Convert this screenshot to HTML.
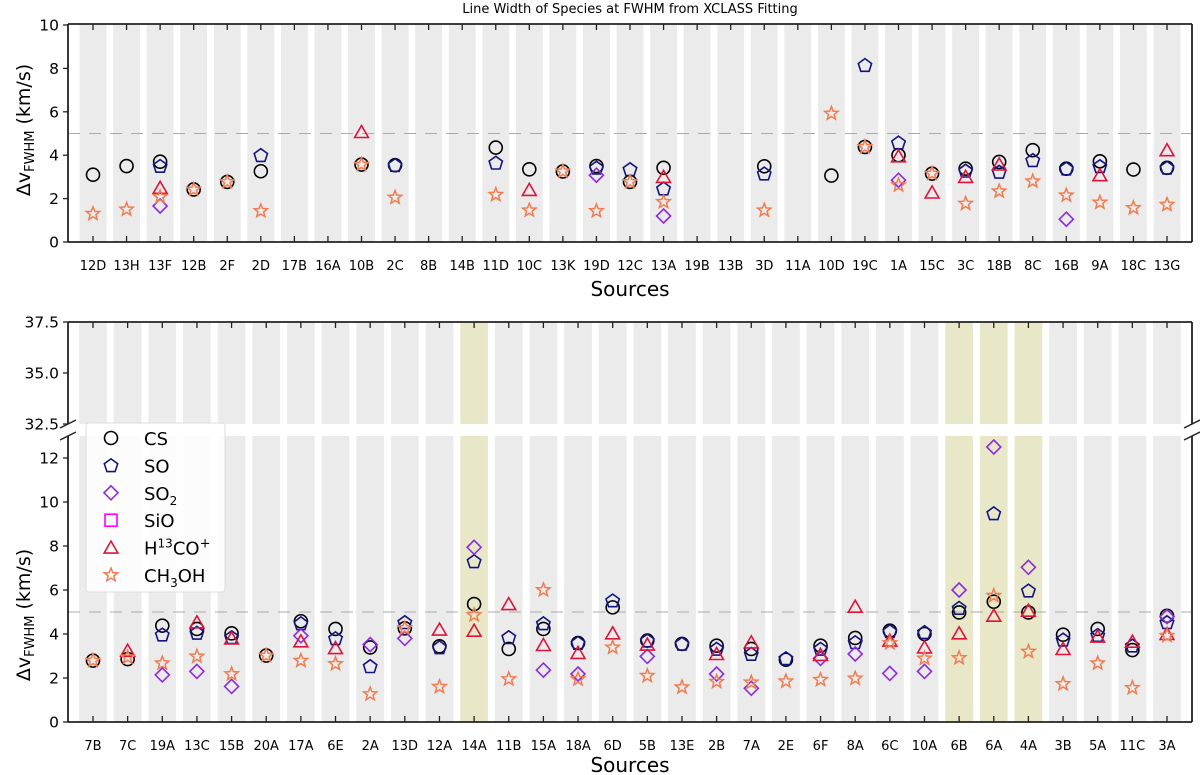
<!DOCTYPE html>
<html><head><meta charset="utf-8">
<style>
html,body{margin:0;padding:0;background:#fff;}
svg{display:block;font-family:"DejaVu Sans","Liberation Sans",sans-serif;}
</style></head>
<body>
<svg id="chart" width="1200" height="775" viewBox="0 0 1200 775" xmlns="http://www.w3.org/2000/svg">
<text x="630" y="13" font-size="13" text-anchor="middle">Line Width of Species at FWHM from XCLASS Fitting</text>
<g id="top"></g>
<g id="bot"></g>
</svg>
<script>
const topCats = ["12D","13H","13F","12B","2F","2D","17B","16A","10B","2C","8B","14B","11D","10C","13K","19D","12C","13A","19B","13B","3D","11A","10D","19C","1A","15C","3C","18B","8C","16B","9A","18C","13G"];
const N = null;
const topCS   = [3.1,3.5,3.7,2.42,2.77,3.26,N,N,3.57,3.54,N,N,4.35,3.35,3.25,3.5,2.77,3.42,N,N,3.49,N,3.06,4.38,4.0,3.15,3.38,3.69,4.23,3.38,3.72,3.34,3.42];
const topSO   = [N,N,3.5,N,N,4.0,N,N,N,3.54,N,N,3.65,N,N,3.42,3.35,2.46,N,N,3.15,N,N,8.15,4.58,N,3.28,3.23,3.77,3.38,3.49,N,3.42];
const topSO2  = [N,N,1.66,N,N,N,N,N,N,N,N,N,N,N,N,3.08,N,1.2,N,N,N,N,N,N,2.85,N,N,N,N,1.05,N,N,N];
const topSiO  = [N,N,N,N,N,N,N,N,N,N,N,N,N,N,N,N,N,N,N,N,N,N,N,N,N,N,N,N,N,N,N,N,N];
const topH13  = [N,N,2.5,N,N,N,N,N,5.07,N,N,N,N,2.4,N,N,N,3.0,N,N,N,N,N,N,3.95,2.28,3.0,3.57,N,N,3.08,N,4.23];
const topCH3OH= [1.3,1.5,2.08,2.42,2.77,1.43,N,N,3.57,2.05,N,N,2.18,1.46,3.25,1.43,2.77,1.85,N,N,1.46,N,5.92,4.38,2.62,3.15,1.77,2.34,2.8,2.15,1.82,1.57,1.72];
const topTicks = [0,2,4,6,8,10];

const botCats = ["7B","7C","19A","13C","15B","20A","17A","6E","2A","13D","12A","14A","11B","15A","18A","6D","5B","13E","2B","7A","2E","6F","8A","6C","10A","6B","6A","4A","3B","5A","11C","3A"];
const botCS   = [2.79,2.86,4.38,4.23,4.03,3.02,4.58,4.23,3.39,4.26,3.44,5.36,3.32,4.23,3.59,5.21,3.7,3.55,3.47,3.32,2.83,3.47,3.82,4.15,4.0,4.98,5.47,4.98,3.97,4.23,3.27,4.83];
const botSO   = [N,N,3.97,4.05,3.85,N,4.48,3.8,2.53,4.53,3.39,7.3,3.85,4.48,3.59,5.52,3.7,3.55,3.32,3.09,2.89,3.32,3.62,4.12,4.08,5.18,9.48,5.97,3.74,3.95,3.47,4.53];
const botSO2  = [N,N,2.14,2.3,1.62,N,3.92,N,3.52,3.8,N,7.94,N,2.36,2.18,N,2.98,N,2.18,1.53,N,2.89,3.09,2.21,2.3,6.0,12.5,7.03,N,N,N,4.79];
const botSiO  = [N,N,N,N,N,N,N,N,N,N,N,N,N,N,N,N,N,N,N,N,N,N,N,N,N,N,N,N,N,N,N,N];
const botH13  = [N,3.24,N,4.53,3.8,N,3.67,3.36,N,N,4.2,4.15,5.36,3.5,3.14,4.03,3.52,N,3.09,3.62,N,3.05,5.24,3.7,3.39,4.03,4.83,5.06,3.32,3.88,3.65,4.0];
const botCH3OH= [2.79,2.94,2.67,2.98,2.18,3.02,2.79,2.64,1.27,4.27,1.6,4.86,1.95,6.0,1.95,3.39,2.1,1.58,1.83,1.8,1.85,1.92,1.98,3.59,2.89,2.91,5.74,3.2,1.73,2.67,1.55,3.92];
const botHighlight = ["14A","6B","6A","4A"];
const botTicksLow = [0,2,4,6,8,10,12];
const botTicksHigh = [32.5,35.0,37.5];

const NS="http://www.w3.org/2000/svg";
function mk(tag, attrs, parent){const e=document.createElementNS(NS,tag);for(const k in attrs)e.setAttribute(k,attrs[k]);parent.appendChild(e);return e;}
const L=68,R=1192,X0=93,X1=1167;
function xScale(n){return i=>X0+i*(X1-X0)/(n-1);}

const species=[
 {name:"CS",color:"#000000",shape:"circle"},
 {name:"SO",color:"#141480",shape:"pentagon"},
 {name:"SO2",color:"#8a2be2",shape:"diamond"},
 {name:"SiO",color:"#ff00ff",shape:"square"},
 {name:"H13CO+",color:"#dc143c",shape:"triangle"},
 {name:"CH3OH",color:"#f07c50",shape:"star"}
];
function poly(cx,cy,r,n,rot,inner){let p=[];const k=inner?2*n:n;for(let j=0;j<k;j++){const rr=inner?(j%2?inner:r):r;const a=rot+j*Math.PI*2/k;p.push((cx+rr*Math.sin(a)).toFixed(1)+","+(cy-rr*Math.cos(a)).toFixed(1));}return p.join(" ");}
function marker(g,shape,cx,cy,color){
 let e;
 const st={fill:"none",stroke:color,"stroke-width":1.6};
 if(shape==="circle"){e=mk("circle",Object.assign({cx:cx,cy:cy,r:6.5},st),g);}
 else if(shape==="pentagon"){e=mk("polygon",Object.assign({points:poly(cx,cy+0.5,7,5,0)},st),g);}
 else if(shape==="diamond"){e=mk("polygon",Object.assign({points:poly(cx,cy,7,4,0)},st),g);}
 else if(shape==="square"){e=mk("rect",Object.assign({x:cx-6,y:cy-6,width:12,height:12},st),g);}
 else if(shape==="triangle"){e=mk("polygon",Object.assign({points:poly(cx,cy+1.5,8,3,0)},st),g);}
 else {e=mk("polygon",Object.assign({points:poly(cx,cy,7,5,0,3)},st,{"stroke-width":1.5}),g);}
 return e;
}

function drawPanel(g, cats, seriesArr, segs, highlight, tickLabelY, srcY, ylabelY){
 const n=cats.length, x=xScale(n), sp=(X1-X0)/(n-1), bw=sp*0.8;
 segs.forEach(s=>{
  cats.forEach((c,i)=>{
   const r=mk("rect",{x:x(i)-bw/2,y:s.top,width:bw,height:s.bottom-s.top,fill:highlight.includes(c)?"#e8e8c9":"#ebebeb"},g);
   
   
  });
 });
 const low=segs[segs.length-1];
 const dl=mk("line",{x1:L,x2:R,y1:low.y(5),y2:low.y(5),stroke:"#aaaaaa","stroke-width":1,"stroke-dasharray":"12,9"},g);
 
 
 segs.forEach((s,si)=>{
  mk("line",{x1:L,x2:L,y1:s.top,y2:s.bottom,stroke:"#222","stroke-width":1.8},g);
  mk("line",{x1:R,x2:R,y1:s.top,y2:s.bottom,stroke:"#222","stroke-width":1.8},g);
  if(si===0){mk("line",{x1:L,x2:R,y1:s.top,y2:s.top,stroke:"#222","stroke-width":1.8},g);}
  if(si===segs.length-1){mk("line",{x1:L,x2:R,y1:s.bottom,y2:s.bottom,stroke:"#222","stroke-width":1.8},g);}
  s.ticks.forEach(t=>{
   const yy=s.y(t);
   mk("line",{x1:L-5,x2:L,y1:yy,y2:yy,stroke:"#222","stroke-width":1.3},g);
   const tl=mk("text",{x:L-9,y:yy+5.5,"font-size":15.5,"text-anchor":"end"},g);
   tl.textContent=s.fmt(t);
   
   
  });
  cats.forEach((c,i)=>{
   if(si===0){mk("line",{x1:x(i),x2:x(i),y1:s.top,y2:s.top+6,stroke:"#222","stroke-width":1.3},g);}
   if(si===segs.length-1){mk("line",{x1:x(i),x2:x(i),y1:s.bottom-6,y2:s.bottom,stroke:"#222","stroke-width":1.3},g);}
  });
 });
 if(segs.length>1){
  [L,R].forEach(xx=>{
   mk("line",{x1:xx-8,x2:xx+8,y1:segs[0].bottom+4,y2:segs[0].bottom-4,stroke:"#222","stroke-width":1.5},g);
   mk("line",{x1:xx-8,x2:xx+8,y1:segs[1].top+4,y2:segs[1].top-4,stroke:"#222","stroke-width":1.5},g);
  });
 }
 cats.forEach((c,i)=>{
  const t=mk("text",{x:x(i),y:tickLabelY,"font-size":13,"text-anchor":"middle"},g);
  t.textContent=c;
  
  
 });
 const xt=mk("text",{x:630,y:srcY,"font-size":20,"text-anchor":"middle"},g);
 xt.textContent="Sources";
 
 
 const yt=mk("text",{x:0,y:0,"font-size":19,"text-anchor":"middle",transform:"translate(30,"+ylabelY+") rotate(-90)"},g);
 yt.innerHTML='Δv<tspan font-size="13" dy="4">FWHM</tspan><tspan dy="-4"> (km/s)</tspan>';
 
 
 species.forEach((sp,k)=>{
  const vals=seriesArr[k];
  vals.forEach((v,i)=>{
   if(v===null) return;
   const m=marker(g,sp.shape,x(i),low.y(v),sp.color);
   
   
  });
 });
}

const topLow={top:24,bottom:242,ticks:topTicks,fmt:t=>String(t),y:v=>242-v*21.7};
drawPanel(document.getElementById('top'),topCats,[topCS,topSO,topSO2,topSiO,topH13,topCH3OH],[topLow],[],270,296,130);

const botHigh={top:322,bottom:424,ticks:botTicksHigh,fmt:t=>t.toFixed(1),y:v=>322+(37.5-v)*20.4};
const botLow={top:436,bottom:722,ticks:botTicksLow,fmt:t=>String(t),y:v=>722-v*22};
drawPanel(document.getElementById('bot'),botCats,[botCS,botSO,botSO2,botSiO,botH13,botCH3OH],[botHigh,botLow],botHighlight,750,772,615);

const bg=document.getElementById('bot');
const lg=mk("g",{},bg);


mk("rect",{x:86,y:423,width:139,height:169,rx:3,fill:"#ffffff","fill-opacity":0.85,stroke:"#dddddd","stroke-width":1},lg);
const labels=['CS','SO','SO<tspan font-size="12" dy="5">2</tspan>','SiO','H<tspan font-size="12" dy="-7">13</tspan><tspan dy="7">CO</tspan><tspan font-size="13" dy="-7">+</tspan>','CH<tspan font-size="12" dy="5">3</tspan><tspan dy="-5">OH</tspan>'];
species.forEach((sp,k)=>{
 const yy=438+k*27.4;
 const ent=mk("g",{},lg);
 
 
 marker(ent,sp.shape,111,yy,sp.color);
 const t=mk("text",{x:144,y:yy+7,"font-size":18},ent);
 t.innerHTML=labels[k];
});
</script>
</body></html>
